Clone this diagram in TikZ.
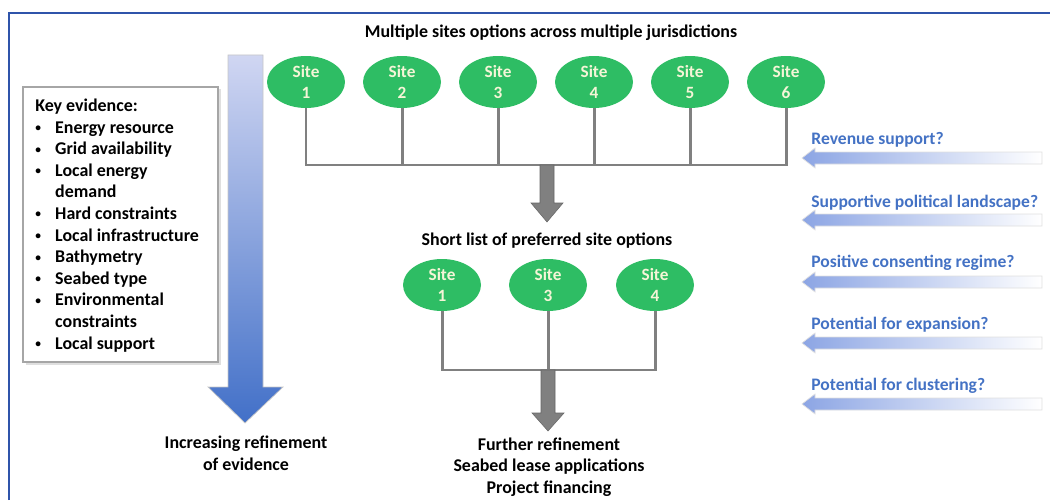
\documentclass[tikz,border=0pt]{standalone}
\usepackage{fontspec}
\setmainfont{Carlito}
\usetikzlibrary{shapes.geometric}
\definecolor{sitegreen}{RGB}{46,189,100}
\definecolor{linegray}{RGB}{128,128,128}
\definecolor{qblue}{RGB}{68,114,196}
\definecolor{frameblue}{RGB}{47,84,170}
\definecolor{sitetext}{RGB}{245,245,215}
\newcommand{\kbul}{\raisebox{0.9pt}{\fontsize{6.5}{6}\selectfont\textbullet}}
\begin{document}
\begin{tikzpicture}[x=0.02cm,y=-0.02cm,
  site/.style={ellipse, fill=sitegreen, minimum width=1.56cm, minimum height=1.04cm, inner sep=0pt,
    text=sitetext, font=\bfseries\fontsize{9.8}{12}\selectfont, align=center},
  lbl/.style={font=\bfseries\fontsize{10.2}{12.3}\selectfont, align=center, inner sep=0pt},
  qlbl/.style={font=\bfseries\fontsize{10}{12}\selectfont, text=qblue, anchor=west, inner sep=0pt},
  tree/.style={draw=linegray, line width=1.7pt},
  grayarrow/.style={fill=linegray, draw=linegray!80!black, line width=0.3pt},
  fadearrow/.style={left color={rgb,255:red,140;green,165;blue,228}, right color=white, draw=gray!25, line width=0.4pt}
]
\useasboundingbox (0,0) rectangle (1050,500);
% frame
\draw[frameblue, line width=1.3pt] (9,500) -- (9,13) -- (1050,13);

% title
\node[lbl] (title) at (551,33) {Multiple sites options across multiple jurisdictions};

% top sites
\foreach \i/\x in {1/306,2/402,3/498,4/594,5/690,6/786}{
  \node[site] (t\i) at (\x,82) {Site\\\i};
  \coordinate (j\i) at (\x,165);
  \draw[tree] (t\i.south) -- (j\i);
}
\draw[tree, line cap=rect] (j1) -- (j6);
% gray arrow 1
\coordinate (a1) at (547,165);
\filldraw[grayarrow] (540,165) -- (554,165) -- (554,203) -- (563,203) -- (547,222) -- (531,203) -- (540,203) -- cycle;

\node[lbl] (short) at (547,241) {Short list of preferred site options};

% second sites
\foreach \i/\n/\x in {1/1/442,2/3/548,3/4/655}{
  \node[site] (s\i) at (\x,285) {Site\\\n};
  \coordinate (k\i) at (\x,370);
  \draw[tree] (s\i.south) -- (k\i);
}
\draw[tree, line cap=rect] (k1) -- (k3);
\filldraw[grayarrow] (541,370) -- (555,370) -- (555,413) -- (564,413) -- (548,431) -- (532,413) -- (541,413) -- cycle;

\node[lbl] (further) at (549,467) {Further refinement\\Seabed lease applications\\Project financing};

% blue refinement arrow
\shade[top color={rgb,255:red,208;green,214;blue,242}, bottom color={rgb,255:red,66;green,112;blue,200}, draw=gray!45, line width=0.4pt]
  (228,55) -- (263,55) -- (263,387) -- (283,387) -- (245,423) -- (208,387) -- (228,387) -- cycle;
\node[lbl] (incr) at (246,453) {Increasing refinement\\of evidence};

% key evidence box
\fill[gray!25] (25.5,89.5) rectangle (220.5,364.5);
\draw[draw=gray!70, line width=1pt, fill=white] (23,87) rectangle (218,362);
\node[anchor=north west, inner sep=0pt, font=\bfseries\fontsize{10.2}{12.3}\selectfont] (key) at (35,96) {%
  \begin{tabular}{@{}p{11.3pt}@{}l@{}}
  \multicolumn{2}{@{}l@{}}{Key evidence:}\\
  \kbul & Energy resource\\
  \kbul & Grid availability\\
  \kbul & Local energy\\
   & demand\\
  \kbul & Hard constraints\\
  \kbul & Local infrastructure\\
  \kbul & Bathymetry\\
  \kbul & Seabed type\\
  \kbul & Environmental\\
   & constraints\\
  \kbul & Local support
  \end{tabular}};

% right-hand questions
\foreach \t/\y/\c [count=\n] in {Revenue support?/140/158, Supportive political landscape?/203/220, Positive consenting regime?/263/282, Potential for expansion?/325/343, Potential for clustering?/386/404}{
  \node[qlbl] (q\n) at (811,\y) {\t};
  \shade[fadearrow] (1042,\c-6) -- (815,\c-6) -- (815,\c-10) -- (802,\c) -- (815,\c+10) -- (815,\c+6) -- (1042,\c+6) -- cycle;
}
\end{tikzpicture}
\end{document}
